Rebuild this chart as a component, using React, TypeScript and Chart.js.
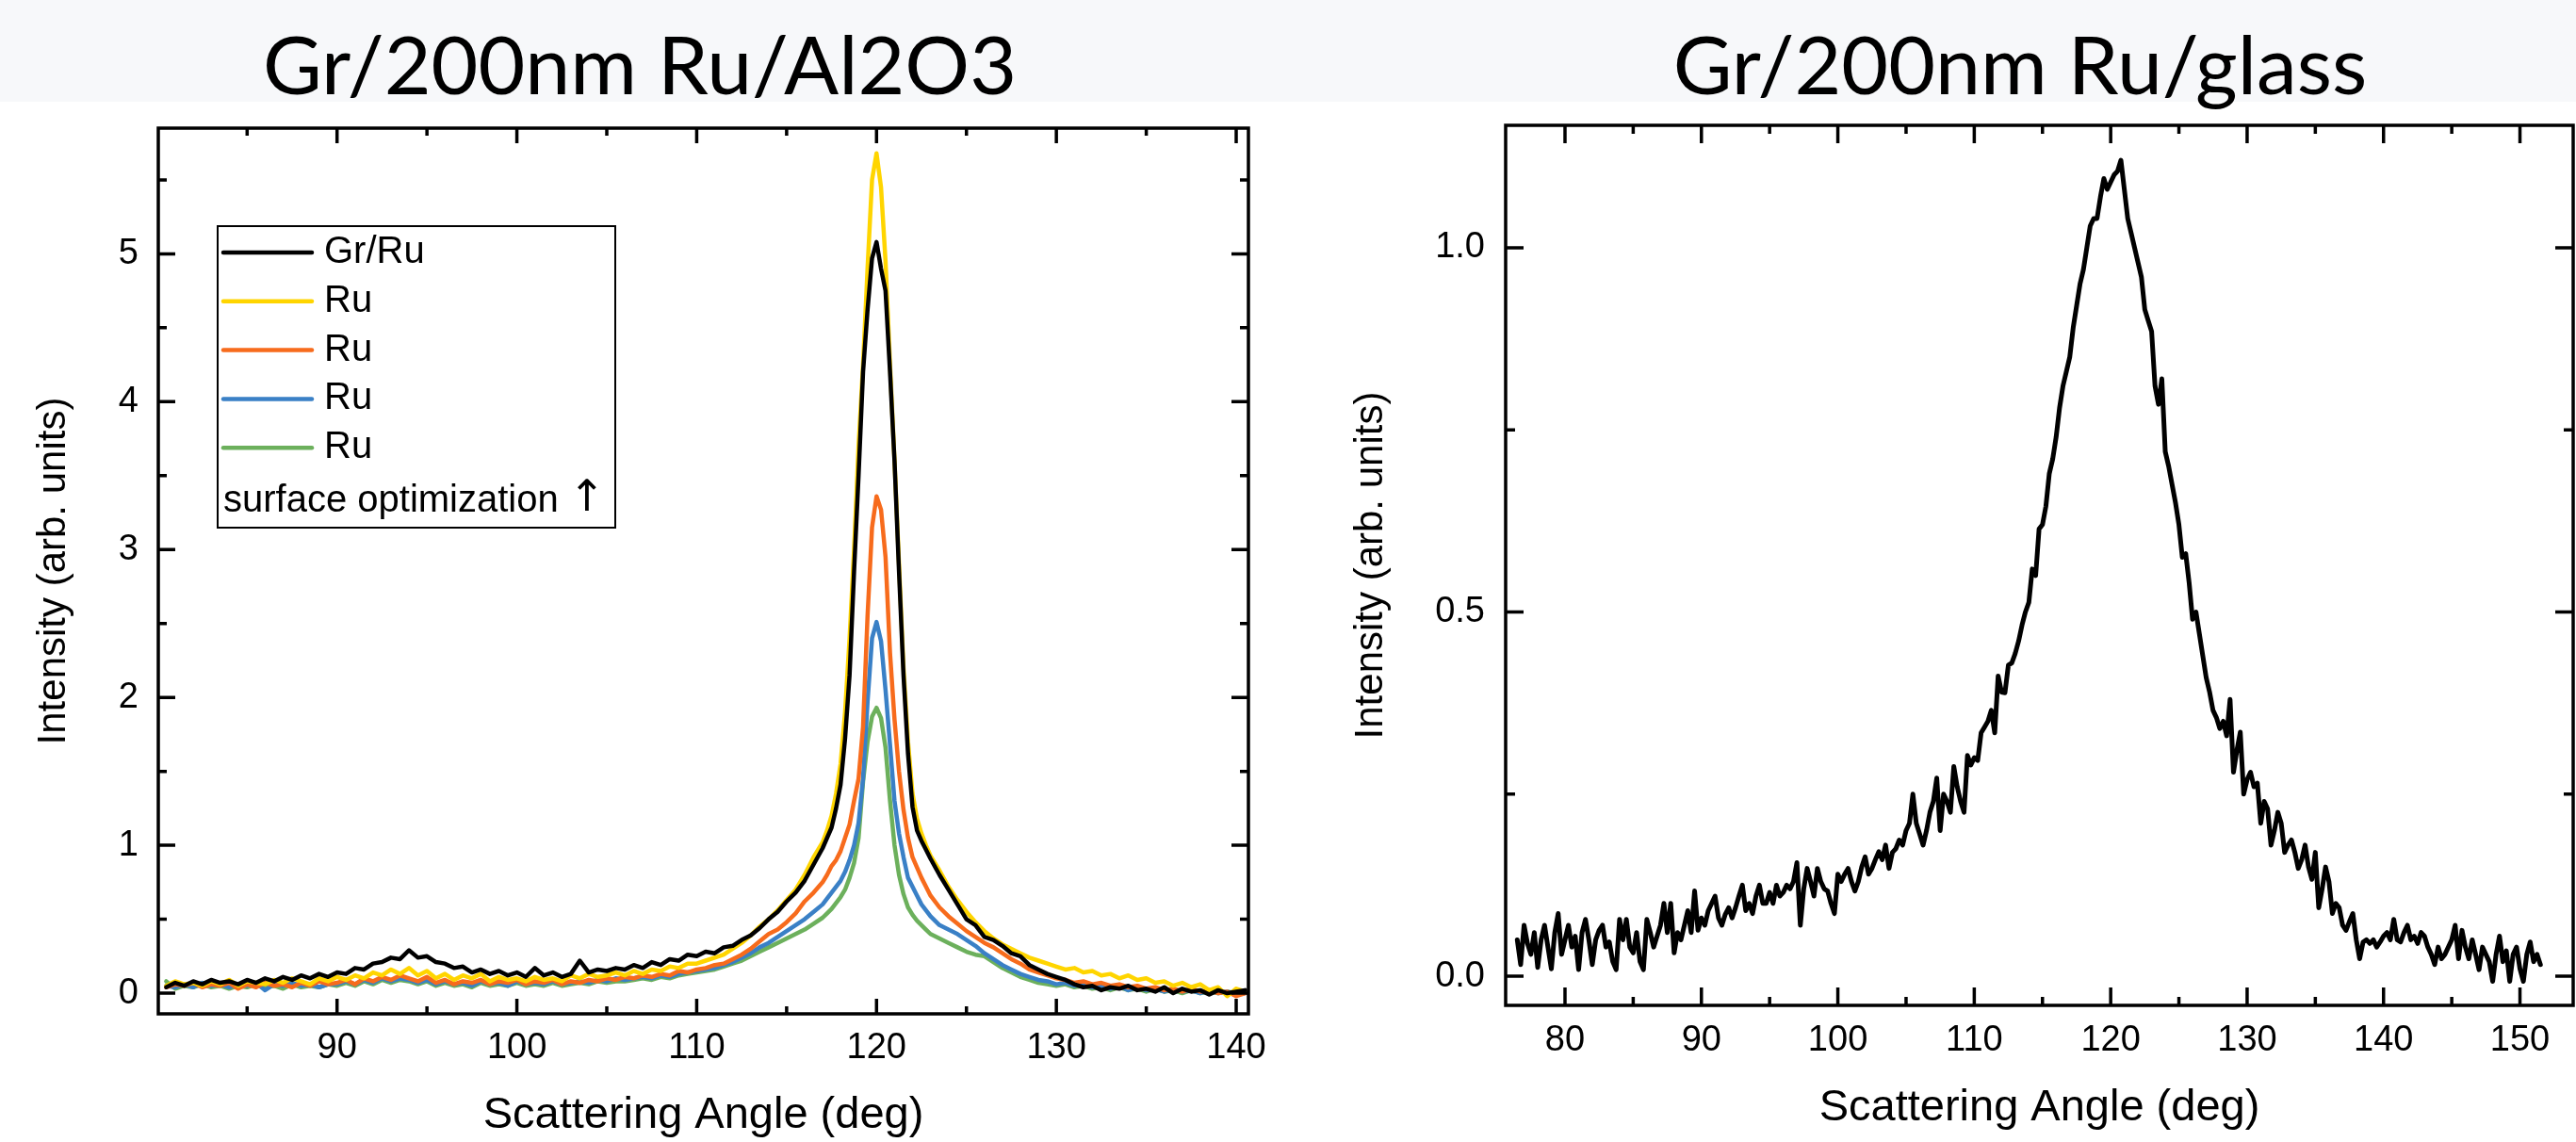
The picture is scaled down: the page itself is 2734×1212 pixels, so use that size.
import React, { useEffect, useRef } from 'react';
import { Chart, registerables } from 'chart.js';

Chart.register(...registerables);

// ---------------- Left panel: Gr/200nm Ru/Al2O3 ----------------
const alTitle = 'Gr/200nm Ru/Al2O3';
const alAngles = [
  80.5, 81, 81.5, 82, 82.5, 83, 83.5, 84, 84.5, 85,
  85.5, 86, 86.5, 87, 87.5, 88, 88.5, 89, 89.5, 90,
  90.5, 91, 91.5, 92, 92.5, 93, 93.5, 94, 94.5, 95,
  95.5, 96, 96.5, 97, 97.5, 98, 98.5, 99, 99.5, 100,
  100.5, 101, 101.5, 102, 102.5, 103, 103.5, 104, 104.5, 105,
  105.5, 106, 106.5, 107, 107.5, 108, 108.5, 109, 109.5, 110,
  110.5, 111, 111.5, 112, 112.5, 113, 113.5, 114, 114.5, 115, 115.5, 116, 116.5,
  117, 117.25, 117.5, 117.75, 118, 118.25, 118.5, 118.75, 119, 119.25, 119.5, 119.75, 120,
  120.25, 120.5, 120.75, 121, 121.25, 121.5, 121.75, 122, 122.25, 122.5, 122.75, 123,
  123.5, 124, 124.5, 125, 125.5, 126, 126.5, 127, 127.5, 128,
  128.5, 129, 129.5, 130, 130.5, 131, 131.5, 132, 132.5, 133,
  133.5, 134, 134.5, 135, 135.5, 136, 136.5, 137, 137.5, 138,
  138.5, 139, 139.5, 140, 140.5,
];
const grRuIntensity = [
  0.04, 0.07, 0.05, 0.08, 0.06, 0.09, 0.07, 0.08, 0.06, 0.09,
  0.07, 0.1, 0.08, 0.11, 0.09, 0.12, 0.1, 0.13, 0.11, 0.14,
  0.13, 0.17, 0.16, 0.2, 0.21, 0.24, 0.23, 0.29, 0.24, 0.25,
  0.21, 0.2, 0.17, 0.18, 0.14, 0.16, 0.13, 0.15, 0.12, 0.14,
  0.11, 0.17, 0.12, 0.14, 0.11, 0.13, 0.22, 0.14, 0.16, 0.15,
  0.17, 0.16, 0.19, 0.17, 0.21, 0.19, 0.23, 0.22, 0.26, 0.25,
  0.28, 0.27, 0.31, 0.32, 0.36, 0.39, 0.44, 0.5, 0.55, 0.62, 0.68, 0.76, 0.87,
  0.98, 1.05, 1.12, 1.25, 1.41, 1.72, 2.15, 2.85, 3.5, 4.2, 4.62, 4.97, 5.08,
  4.9, 4.75, 4.2, 3.6, 2.85, 2.15, 1.62, 1.26, 1.1, 1.03, 0.97, 0.91,
  0.8, 0.7, 0.6, 0.5, 0.46, 0.38, 0.36, 0.32, 0.27, 0.25,
  0.19, 0.16, 0.13, 0.11, 0.09, 0.06, 0.04, 0.05, 0.02, 0.04,
  0.03, 0.05, 0.02, 0.03, 0.01, 0.04, 0.0, 0.03, 0.01, 0.02,
  -0.01, 0.02, 0.0, 0.01, 0.02,
];
const ruYellowIntensity = [
  0.05, 0.08, 0.06, 0.07, 0.05, 0.08, 0.06, 0.09, 0.05, 0.08,
  0.07, 0.06, 0.09, 0.07, 0.1, 0.08, 0.06, 0.1, 0.08, 0.11,
  0.09, 0.12, 0.1, 0.14, 0.12, 0.16, 0.13, 0.17, 0.12, 0.15,
  0.1, 0.13, 0.09, 0.12, 0.1, 0.13, 0.08, 0.11, 0.09, 0.1,
  0.08, 0.11, 0.09, 0.1, 0.08, 0.12, 0.1, 0.13, 0.11, 0.12,
  0.14, 0.12, 0.15, 0.13, 0.16, 0.15, 0.18, 0.17, 0.2, 0.2,
  0.22, 0.24, 0.26, 0.3, 0.34, 0.39, 0.45, 0.5, 0.56, 0.63, 0.7, 0.8, 0.92,
  1.02, 1.1, 1.2, 1.35, 1.55, 1.9, 2.4, 3.0, 3.7, 4.25, 4.9, 5.5, 5.68,
  5.45, 4.95, 4.25, 3.6, 2.9, 2.2, 1.7, 1.35, 1.18, 1.08, 1.0, 0.93,
  0.83, 0.72, 0.63, 0.55, 0.48, 0.42, 0.37, 0.33, 0.3, 0.27,
  0.24, 0.22, 0.2, 0.18, 0.16, 0.17, 0.14, 0.15, 0.12, 0.13,
  0.1, 0.12, 0.09, 0.1, 0.07, 0.08, 0.05, 0.07, 0.04, 0.06,
  0.02, 0.04, -0.02, 0.03, 0.01,
];
const ruOrangeIntensity = [
  0.04, 0.06, 0.05, 0.07, 0.04, 0.06, 0.05, 0.07, 0.03, 0.06,
  0.04, 0.07, 0.05, 0.06, 0.04, 0.07, 0.05, 0.08, 0.06, 0.07,
  0.09, 0.06, 0.1, 0.08, 0.11, 0.09, 0.12, 0.1, 0.08, 0.11,
  0.07, 0.09, 0.06, 0.08, 0.07, 0.09, 0.06, 0.08, 0.07, 0.09,
  0.06, 0.08, 0.07, 0.09, 0.06, 0.08, 0.07, 0.09, 0.08, 0.1,
  0.09, 0.11, 0.1, 0.12, 0.11, 0.13, 0.12, 0.15, 0.14, 0.16,
  0.17, 0.19, 0.2, 0.23, 0.26, 0.3, 0.35, 0.4, 0.43, 0.48, 0.54, 0.62, 0.68,
  0.75, 0.8, 0.86, 0.9, 0.96, 1.05, 1.14, 1.3, 1.45, 1.8, 2.55, 3.15, 3.36,
  3.27, 2.95, 2.3, 1.85, 1.5, 1.24, 1.05, 0.92, 0.85, 0.78, 0.72, 0.66,
  0.58, 0.52, 0.47, 0.42, 0.38, 0.34, 0.31, 0.27, 0.23, 0.2,
  0.16, 0.14, 0.12, 0.1, 0.09, 0.07, 0.08, 0.06, 0.07, 0.05,
  0.06, 0.04, 0.05, 0.03, 0.04, 0.02, 0.03, 0.01, 0.03, 0.01,
  0.02, 0.0, 0.01, -0.02, 0.0,
];
const ruBlueIntensity = [
  0.05, 0.04, 0.06, 0.04, 0.07, 0.05, 0.06, 0.04, 0.06, 0.05,
  0.07, 0.02, 0.06, 0.05, 0.07, 0.05, 0.06, 0.04, 0.06, 0.06,
  0.08, 0.06, 0.09, 0.07, 0.1, 0.08, 0.1, 0.09, 0.07, 0.09,
  0.06, 0.08, 0.06, 0.07, 0.05, 0.08, 0.06, 0.07, 0.05, 0.08,
  0.06, 0.07, 0.06, 0.08, 0.06, 0.07, 0.08, 0.07, 0.09, 0.08,
  0.1, 0.09, 0.1, 0.11, 0.1, 0.12, 0.11, 0.13, 0.14, 0.15,
  0.16, 0.17, 0.19, 0.21, 0.24, 0.27, 0.31, 0.34, 0.38, 0.42, 0.46, 0.5, 0.55,
  0.6, 0.64, 0.68, 0.72, 0.76, 0.82, 0.9, 1.0, 1.15, 1.45, 1.97, 2.4, 2.51,
  2.38, 2.05, 1.68, 1.3, 1.08, 0.92, 0.78, 0.72, 0.66, 0.6, 0.56, 0.52,
  0.46, 0.43, 0.4, 0.36, 0.32, 0.27, 0.23, 0.19, 0.16, 0.13,
  0.11, 0.09, 0.08, 0.06, 0.07, 0.05, 0.06, 0.04, 0.05, 0.03,
  0.05, 0.02, 0.04, 0.02, 0.03, 0.01, 0.03, 0.01, 0.02, 0.0,
  0.02, 0.0, 0.01, -0.01, 0.0,
];
const ruGreenIntensity = [
  0.08, 0.03, 0.05, 0.04, 0.06, 0.04, 0.05, 0.03, 0.05, 0.04,
  0.06, 0.04, 0.05, 0.03, 0.06, 0.04, 0.05, 0.04, 0.06, 0.05,
  0.07, 0.05, 0.08, 0.06, 0.09, 0.07, 0.09, 0.08, 0.06, 0.08,
  0.05, 0.07, 0.05, 0.06, 0.04, 0.07, 0.05, 0.06, 0.05, 0.07,
  0.05, 0.06, 0.05, 0.07, 0.05, 0.06, 0.07, 0.06, 0.08, 0.07,
  0.08, 0.08, 0.09, 0.1, 0.09, 0.11, 0.1, 0.12, 0.13, 0.14,
  0.15, 0.16, 0.18, 0.2, 0.22, 0.25, 0.28, 0.31, 0.34, 0.37, 0.4, 0.43, 0.47,
  0.51, 0.54, 0.57, 0.61, 0.65, 0.7, 0.78, 0.88, 1.05, 1.43, 1.7, 1.87, 1.93,
  1.86, 1.66, 1.3, 1.0, 0.8, 0.67, 0.58, 0.53, 0.49, 0.46, 0.43, 0.4,
  0.37, 0.34, 0.31, 0.28, 0.26, 0.25, 0.21, 0.17, 0.14, 0.11,
  0.09, 0.07, 0.06, 0.05, 0.06, 0.04, 0.05, 0.03, 0.04, 0.02,
  0.04, 0.02, 0.03, 0.01, 0.03, 0.01, 0.02, 0.0, 0.02, 0.0,
  0.01, 0.0, 0.01, 0.0, 0.01,
];
const alSeriesLabels = ['Gr/Ru', 'Ru', 'Ru', 'Ru', 'Ru'];
const alSeriesColors = ['#000000', '#FFD500', '#F76B1C', '#3A80C6', '#6CB05C'];
const alLegendNote = 'surface optimization';
const alLegendArrow = '\u2191';
const alXTicks = [90, 100, 110, 120, 130, 140];
const alXMinorTicks = [85, 95, 105, 115, 125, 135];
const alYTicks = [0, 1, 2, 3, 4, 5];
const alYMinorTicks = [0.5, 1.5, 2.5, 3.5, 4.5, 5.5];

// ---------------- Right panel: Gr/200nm Ru/glass ----------------
const glassTitle = 'Gr/200nm Ru/glass';
const glassAngleStart = 76.5;
const glassAngleStep = 0.25;
const glassIntensity = [
  0.05, 0.016, 0.07, 0.045, // 76.5
  0.03, 0.06, 0.012, 0.05, // 77.5
  0.07, 0.04, 0.01, 0.06, // 78.5
  0.086, 0.03, 0.05, 0.07, // 79.5
  0.04, 0.055, 0.009, 0.06, // 80.5
  0.078, 0.05, 0.016, 0.05, // 81.5
  0.063, 0.07, 0.04, 0.047, // 82.5
  0.02, 0.009, 0.078, 0.05, // 83.5
  0.078, 0.04, 0.032, 0.06, // 84.5
  0.02, 0.009, 0.078, 0.06, // 85.5
  0.04, 0.055, 0.07, 0.1, // 86.5
  0.06, 0.1, 0.032, 0.06, // 87.5
  0.05, 0.07, 0.09, 0.06, // 88.5
  0.117, 0.063, 0.08, 0.07, // 89.5
  0.09, 0.1, 0.11, 0.08, // 90.5
  0.07, 0.085, 0.094, 0.08, // 91.5
  0.094, 0.11, 0.125, 0.09, // 92.5
  0.1, 0.086, 0.11, 0.125, // 93.5
  0.1, 0.1, 0.115, 0.1, // 94.5
  0.125, 0.11, 0.115, 0.125, // 95.5
  0.12, 0.13, 0.156, 0.07, // 96.5
  0.12, 0.148, 0.13, 0.11, // 97.5
  0.148, 0.13, 0.12, 0.117, // 98.5
  0.1, 0.086, 0.14, 0.13, // 99.5
  0.14, 0.148, 0.13, 0.117, // 100.5
  0.13, 0.15, 0.164, 0.14, // 101.5
  0.148, 0.16, 0.171, 0.16, // 102.5
  0.18, 0.148, 0.17, 0.175, // 103.5
  0.187, 0.18, 0.2, 0.21, // 104.5
  0.25, 0.21, 0.195, 0.18, // 105.5
  0.2, 0.225, 0.24, 0.272, // 106.5
  0.2, 0.25, 0.24, 0.225, // 107.5
  0.288, 0.26, 0.24, 0.225, // 108.5
  0.303, 0.29, 0.3, 0.296, // 109.5
  0.334, 0.342, 0.35, 0.365, // 110.5
  0.334, 0.412, 0.39, 0.389, // 111.5
  0.427, 0.43, 0.443, 0.46, // 112.5
  0.482, 0.5, 0.513, 0.559, // 113.5
  0.55, 0.614, 0.62, 0.645, // 114.5
  0.69, 0.71, 0.74, 0.78, // 115.5
  0.81, 0.83, 0.85, 0.89, // 116.5
  0.92, 0.95, 0.97, 1.0, // 117.5
  1.03, 1.04, 1.04, 1.07, // 118.5
  1.095, 1.08, 1.09, 1.1, // 119.5
  1.105, 1.12, 1.08, 1.04, // 120.5
  1.02, 1.0, 0.98, 0.96, // 121.5
  0.915, 0.9, 0.885, 0.81, // 122.5
  0.785, 0.82, 0.72, 0.7, // 123.5
  0.675, 0.65, 0.62, 0.575, // 124.5
  0.58, 0.54, 0.49, 0.5, // 125.5
  0.47, 0.44, 0.41, 0.39, // 126.5
  0.365, 0.355, 0.34, 0.35, // 127.5
  0.33, 0.38, 0.28, 0.31, // 128.5
  0.335, 0.25, 0.27, 0.28, // 129.5
  0.26, 0.265, 0.21, 0.24, // 130.5
  0.23, 0.18, 0.2, 0.225, // 131.5
  0.21, 0.17, 0.18, 0.187, // 132.5
  0.17, 0.148, 0.16, 0.18, // 133.5
  0.15, 0.133, 0.17, 0.094, // 134.5
  0.12, 0.15, 0.13, 0.086, // 135.5
  0.1, 0.094, 0.07, 0.063, // 136.5
  0.075, 0.086, 0.05, 0.024, // 137.5
  0.047, 0.05, 0.045, 0.05, // 138.5
  0.04, 0.047, 0.055, 0.06, // 139.5
  0.05, 0.078, 0.05, 0.047, // 140.5
  0.06, 0.07, 0.05, 0.055, // 141.5
  0.045, 0.06, 0.055, 0.04, // 142.5
  0.03, 0.016, 0.04, 0.024, // 143.5
  0.03, 0.04, 0.05, 0.07, // 144.5
  0.024, 0.063, 0.04, 0.024, // 145.5
  0.05, 0.03, 0.009, 0.04, // 146.5
  0.03, 0.02, -0.007, 0.03, // 147.5
  0.055, 0.02, 0.035, -0.007, // 148.5
  0.03, 0.04, 0.01, -0.007, // 149.5
  0.03, 0.047, 0.02, 0.03, // 150.5
  0.016, // 151.5
];
const glassLabel = 'Gr/Ru';
const glassXTicks = [80, 90, 100, 110, 120, 130, 140, 150];
const glassXMinorTicks = [85, 95, 105, 115, 125, 135, 145];
const glassYTicks = [0, 0.5, 1.0];
const glassYMinorTicks = [0.25, 0.75];

const axisLabelX = 'Scattering Angle (deg)';
const axisLabelY = 'Intensity (arb. units)';

const SANS = '"Liberation Sans", Arial, Helvetica, sans-serif';

// ---------------- plugins ----------------
const frameTicksPlugin = {
  id: 'frameTicks',
  afterDatasetsDraw(chart: any, _args: any, opts: any) {
    const { ctx, chartArea } = chart;
    const { left, right, top, bottom } = chartArea;
    const xs = chart.scales.x;
    const ys = chart.scales.y;
    ctx.save();
    ctx.strokeStyle = '#000';
    ctx.lineCap = 'butt';
    ctx.lineWidth = opts.tickWidth;
    ctx.beginPath();
    const xTick = (v: number, len: number) => {
      const p = xs.getPixelForValue(v);
      ctx.moveTo(p, bottom);
      ctx.lineTo(p, bottom - len);
      ctx.moveTo(p, top);
      ctx.lineTo(p, top + len);
    };
    const yTick = (v: number, len: number) => {
      const p = ys.getPixelForValue(v);
      ctx.moveTo(left, p);
      ctx.lineTo(left + len, p);
      ctx.moveTo(right, p);
      ctx.lineTo(right - len, p);
    };
    opts.xMajor.forEach((v: number) => xTick(v, opts.majorX));
    opts.xMinor.forEach((v: number) => xTick(v, opts.minorX));
    opts.yMajor.forEach((v: number) => yTick(v, opts.majorY));
    opts.yMinor.forEach((v: number) => yTick(v, opts.minorY));
    ctx.stroke();
    ctx.lineWidth = opts.frameWidth;
    ctx.strokeRect(left, top, right - left, bottom - top);
    ctx.restore();
  },
};

const headingPlugin = {
  id: 'heading',
  afterDraw(chart: any, _args: any, opts: any) {
    const { ctx } = chart;
    ctx.save();
    ctx.fillStyle = '#000';
    ctx.font = `${opts.size}px Lato, "Open Sans", sans-serif`;
    ctx.textAlign = 'center';
    ctx.textBaseline = 'alphabetic';
    ctx.fillText(opts.text, opts.x, opts.y);
    ctx.restore();
  },
};

const boxLegendPlugin = {
  id: 'boxLegend',
  afterDraw(chart: any, _args: any, opts: any) {
    if (!opts || !opts.display) return;
    const { ctx, chartArea } = chart;
    const x0 = chartArea.left + opts.offsetX;
    const y0 = chartArea.top + opts.offsetY;
    ctx.save();
    ctx.fillStyle = '#fff';
    ctx.fillRect(x0, y0, opts.width, opts.height);
    ctx.strokeStyle = '#000';
    ctx.lineWidth = 2;
    ctx.strokeRect(x0, y0, opts.width, opts.height);
    ctx.font = `${opts.fontSize}px ${SANS}`;
    ctx.textBaseline = 'middle';
    ctx.textAlign = 'left';
    chart.data.datasets.forEach((ds: any, i: number) => {
      const cy = y0 + opts.firstRow + i * opts.rowGap;
      ctx.strokeStyle = ds.borderColor;
      ctx.lineWidth = 4.5;
      ctx.lineCap = 'round';
      ctx.beginPath();
      ctx.moveTo(x0 + 6, cy);
      ctx.lineTo(x0 + 100, cy);
      ctx.stroke();
      ctx.fillStyle = '#000';
      ctx.fillText(ds.label, x0 + 113, cy);
    });
    ctx.fillStyle = '#000';
    const noteY = y0 + opts.noteY;
    ctx.fillText(opts.note, x0 + 6, noteY);
    const w = ctx.measureText(opts.note + ' ').width;
    ctx.font = `${opts.arrowSize}px "DejaVu Sans", ${SANS}`;
    ctx.fillText(opts.arrow, x0 + 6 + w, noteY - 2);
    ctx.restore();
  },
};

function makeScales(cfg: any) {
  return {
    x: {
      type: 'linear',
      position: 'bottom',
      min: cfg.xMin,
      max: cfg.xMax,
      grid: { display: false, drawTicks: false },
      border: { display: false },
      afterBuildTicks: (s: any) => {
        s.ticks = cfg.xTicks.map((value: number) => ({ value }));
      },
      afterFit: (s: any) => {
        s.height = cfg.xAxisHeight;
      },
      ticks: {
        autoSkip: false,
        maxRotation: 0,
        padding: cfg.xTickPad,
        color: '#000',
        font: { family: SANS, size: 38 },
        callback: (v: any) => String(v),
      },
      title: {
        display: true,
        text: axisLabelX,
        color: '#000',
        font: { family: SANS, size: 47 },
        padding: { top: 0, bottom: cfg.xTitlePad },
      },
    },
    y: {
      type: 'linear',
      position: 'left',
      min: cfg.yMin,
      max: cfg.yMax,
      grid: { display: false, drawTicks: false },
      border: { display: false },
      afterBuildTicks: (s: any) => {
        s.ticks = cfg.yTicks.map((value: number) => ({ value }));
      },
      afterFit: (s: any) => {
        s.width = cfg.yAxisWidth;
      },
      ticks: {
        padding: cfg.yTickPad,
        color: '#000',
        font: { family: SANS, size: 38 },
        callback: cfg.yFormat,
      },
      title: {
        display: true,
        text: axisLabelY,
        color: '#000',
        font: { family: SANS, size: 42 },
        padding: { top: cfg.yTitlePad, bottom: 0 },
      },
    },
  };
}

function leftConfig(): any {
  const series = [grRuIntensity, ruYellowIntensity, ruOrangeIntensity, ruBlueIntensity, ruGreenIntensity];
  return {
    type: 'line',
    data: {
      datasets: series.map((vals, i) => ({
        label: alSeriesLabels[i],
        data: alAngles.map((a, j) => ({ x: a, y: vals[j] })),
        borderColor: alSeriesColors[i],
        backgroundColor: alSeriesColors[i],
        borderWidth: 4.5,
        borderJoinStyle: 'round',
        borderCapStyle: 'round',
        pointRadius: 0,
        tension: 0,
        fill: false,
      })),
    },
    options: {
      animation: false,
      responsive: false,
      devicePixelRatio: 1,
      layout: { padding: { top: 136, right: 25, bottom: 0, left: 0 } },
      scales: makeScales({
        xMin: 80.06, xMax: 140.68, xTicks: alXTicks, xAxisHeight: 136, xTickPad: 14, xTitlePad: 0,
        yMin: -0.14, yMax: 5.85, yTicks: alYTicks, yAxisWidth: 168, yTickPad: 21, yTitlePad: 32,
        yFormat: (v: any) => String(v),
      }),
      plugins: {
        legend: { display: false },
        tooltip: { enabled: false },
        frameTicks: {
          xMajor: alXTicks, xMinor: alXMinorTicks, yMajor: alYTicks, yMinor: alYMinorTicks,
          majorX: 16, minorX: 8, majorY: 18, minorY: 9, tickWidth: 3.5, frameWidth: 3.5,
        },
        heading: { text: alTitle, x: 679, y: 100, size: 86 },
        boxLegend: {
          display: true, offsetX: 63, offsetY: 104, width: 422, height: 320,
          firstRow: 28, rowGap: 51.8, noteY: 292, fontSize: 40,
          note: alLegendNote, arrow: alLegendArrow, arrowSize: 46,
        },
      },
    },
    plugins: [frameTicksPlugin, headingPlugin, boxLegendPlugin],
  };
}

function rightConfig(): any {
  return {
    type: 'line',
    data: {
      datasets: [
        {
          label: glassLabel,
          data: glassIntensity.map((v, i) => ({ x: glassAngleStart + i * glassAngleStep, y: v })),
          borderColor: '#000000',
          backgroundColor: '#000000',
          borderWidth: 5,
          borderJoinStyle: 'round',
          borderCapStyle: 'round',
          pointRadius: 0,
          tension: 0,
          fill: false,
        },
      ],
    },
    options: {
      animation: false,
      responsive: false,
      devicePixelRatio: 1,
      layout: { padding: { top: 133, right: 3, bottom: 0, left: 0 } },
      scales: makeScales({
        xMin: 75.65, xMax: 153.9, xTicks: glassXTicks, xAxisHeight: 145, xTickPad: 15, xTitlePad: 8,
        yMin: -0.04, yMax: 1.168, yTicks: glassYTicks, yAxisWidth: 218, yTickPad: 22, yTitlePad: 50,
        yFormat: (v: any) => Number(v).toFixed(1),
      }),
      plugins: {
        legend: { display: false },
        tooltip: { enabled: false },
        frameTicks: {
          xMajor: glassXTicks, xMinor: glassXMinorTicks, yMajor: glassYTicks, yMinor: glassYMinorTicks,
          majorX: 19, minorX: 9, majorY: 19, minorY: 10, tickWidth: 3.5, frameWidth: 3.5,
        },
        heading: { text: glassTitle, x: 764, y: 100, size: 86 },
        boxLegend: { display: false },
      },
    },
    plugins: [frameTicksPlugin, headingPlugin, boxLegendPlugin],
  };
}

export default function App() {
  const leftRef = useRef<HTMLCanvasElement>(null);
  const rightRef = useRef<HTMLCanvasElement>(null);

  useEffect(() => {
    const c1 = new Chart(leftRef.current as HTMLCanvasElement, leftConfig());
    const c2 = new Chart(rightRef.current as HTMLCanvasElement, rightConfig());
    return () => {
      c1.destroy();
      c2.destroy();
    };
  }, []);

  return (
    <div style={{ position: 'absolute', left: 0, top: 0, width: 2734, height: 1212, background: '#ffffff', overflow: 'hidden' }}>
      <div style={{ position: 'absolute', left: 0, top: 0, width: 2734, height: 108, background: '#f7f8fa' }} />
      <canvas ref={leftRef} width={1358} height={1212} style={{ position: 'absolute', left: 0, top: 0 }} />
      <canvas ref={rightRef} width={1354} height={1212} style={{ position: 'absolute', left: 1380, top: 0 }} />
    </div>
  );
}
